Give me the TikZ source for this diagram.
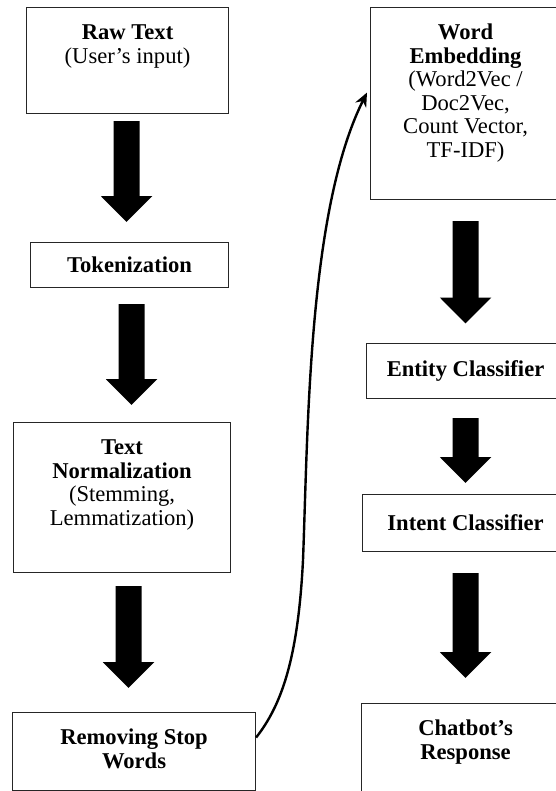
\documentclass[tikz,border=0pt]{standalone}
\usepackage{fontspec}
\setmainfont{Liberation Serif}
\usetikzlibrary{arrows.meta}

% box contents set from the top, first baseline 32bp below the frame
\newcommand\stagetext[3]{\parbox[t][#2][t]{#1}{\centering\rule{0pt}{32bp}#3}}

\begin{document}
\begin{tikzpicture}[x=1bp,y=-1bp,
  every node/.style={font=\fontsize{22.6bp}{23.5bp}\selectfont},
  stagebox/.style={draw=black!85, line width=1.1bp, inner sep=0pt, anchor=north west, align=center},
  flow/.style={line width=26bp, -{Triangle[width=50bp,length=26bp]}},
  link/.style={line width=2.4bp, -{Stealth[length=14bp,width=12bp]}}]

\useasboundingbox (0,0) rectangle (556,791);
\clip (0,0) rectangle (556,791);

% left column
\node[stagebox] (raw) at (26,7)
  {\stagetext{202bp}{106bp}{\textbf{Raw Text}\\(User’s input)}};
\node[stagebox, minimum width=198bp, minimum height=45bp] (tok) at (30,242)
  {\textbf{Tokenization}};
\node[stagebox] (norm) at (13,422)
  {\stagetext{217bp}{150bp}{\textbf{Text}\\\textbf{Normalization}\\(Stemming,\\Lemmatization)}};
\node[stagebox] (stop) at (12,712)
  {\stagetext{243bp}{78bp}{\textbf{Removing Stop}\\\textbf{Words}}};

% right column
\node[stagebox] (emb) at (370,7)
  {\stagetext{190bp}{192bp}{\textbf{Word}\\\textbf{Embedding}\\(Word2Vec /\\Doc2Vec,\\Count Vector,\\TF-IDF)}};
\node[stagebox, minimum width=198bp, minimum height=55bp] (ent) at (366,342.5)
  {\textbf{Entity Classifier}};
\node[stagebox, minimum width=206bp, minimum height=57bp] (int) at (362,494)
  {\textbf{Intent Classifier}};
\node[stagebox] (chat) at (361,703)
  {\stagetext{208bp}{120bp}{\textbf{Chatbot’s}\\\textbf{Response}}};

% block arrows between stages
\draw[flow, shorten <=7bp, shorten >=20bp] ([xshift=-1bp]raw.south) -- ([xshift=-3bp]tok.north);
\draw[flow, shorten <=16bp, shorten >=17bp] ([xshift=2bp]tok.south) -- ([xshift=9.5bp]norm.north);
\draw[flow, shorten <=13bp, shorten >=24bp] ([xshift=6.5bp]norm.south) -- ([xshift=-5.5bp]stop.north);
\draw[flow, shorten <=21bp, shorten >=19bp] (emb.south) -- (ent.north);
\draw[flow, shorten <=19.5bp, shorten >=11bp] (ent.south) -- (int.north);
\draw[flow, shorten <=21bp, shorten >=25bp] (int.south) -- (chat.north);

% curved link from the left column to the right column
\coordinate (bend) at (303,560);
\draw[link] ([yshift=14bp]stop.east) .. controls +(25,-32) and +(-5,100) .. (bend)
  .. controls +(5,-130) and +(-59,118) .. ([xshift=-3bp,yshift=11bp]emb.west);
\end{tikzpicture}
\end{document}
